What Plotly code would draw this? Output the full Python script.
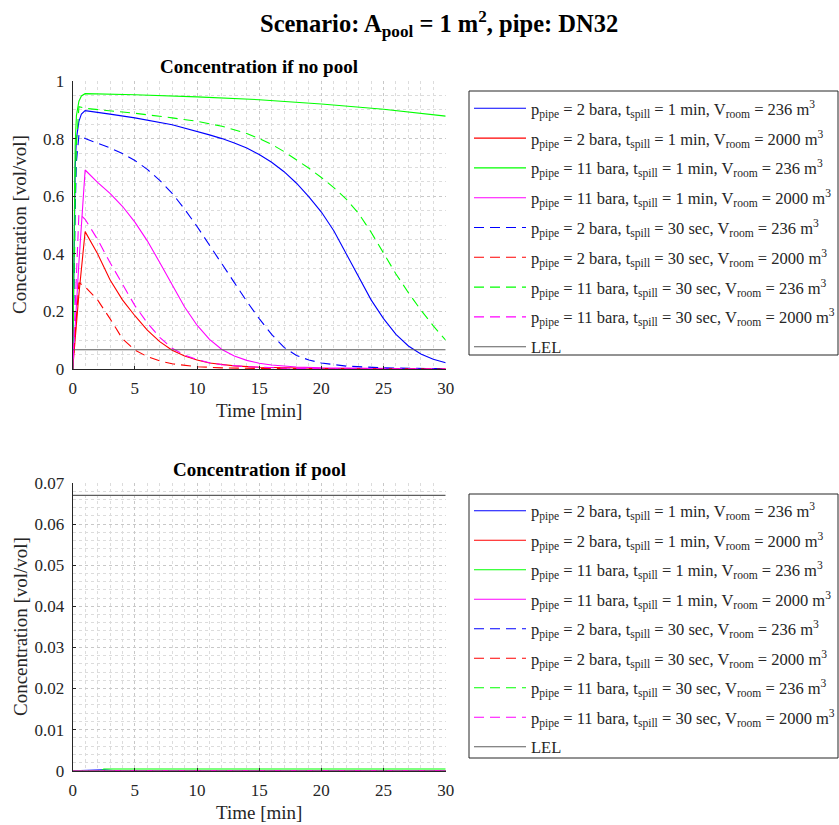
import plotly.graph_objects as go

# ---- data: concentration curves without pool (time in min, conc. in vol/vol) ----
t_p2_1min_236 = [0, 0.1, 0.2, 0.3, 0.5, 0.7, 1, 3, 5, 8, 10, 11, 12, 13, 14, 15, 16, 17, 18, 19, 20, 21, 22, 23, 24, 25, 26, 27, 28, 29, 30]
c_p2_1min_236 = [0, 0.45, 0.70, 0.80, 0.86, 0.885, 0.897, 0.885, 0.872, 0.848, 0.826, 0.813, 0.80, 0.785, 0.767, 0.745, 0.718, 0.685, 0.645, 0.598, 0.545, 0.48, 0.40, 0.32, 0.24, 0.175, 0.12, 0.08, 0.052, 0.034, 0.022]

t_p2_1min_2000 = [0, 0.5, 1, 2, 3, 4, 5, 6, 7, 8, 9, 10, 11, 12, 13, 15, 18, 22, 30]
c_p2_1min_2000 = [0, 0.26, 0.477, 0.40, 0.31, 0.24, 0.185, 0.135, 0.095, 0.065, 0.045, 0.031, 0.021, 0.015, 0.011, 0.006, 0.003, 0.001, 0.0]

t_p11_1min_236 = [0, 0.1, 0.2, 0.3, 0.5, 0.7, 1, 5, 10, 15, 20, 25, 30]
c_p11_1min_236 = [0, 0.50, 0.78, 0.88, 0.93, 0.948, 0.956, 0.952, 0.945, 0.935, 0.92, 0.902, 0.878]

t_p11_1min_2000 = [0, 0.5, 1, 2, 3, 4, 5, 6, 7, 8, 9, 10, 11, 12, 13, 14, 15, 16, 18, 20, 25, 30]
c_p11_1min_2000 = [0, 0.37, 0.691, 0.648, 0.61, 0.565, 0.51, 0.445, 0.37, 0.29, 0.215, 0.152, 0.103, 0.068, 0.045, 0.03, 0.02, 0.014, 0.007, 0.004, 0.001, 0.0]

t_p2_30s_236 = [0, 0.1, 0.2, 0.3, 0.5, 1, 2, 3, 4, 5, 6, 7, 8, 9, 10, 11, 12, 13, 14, 15, 16, 17, 18, 19, 20, 22, 25, 30]
c_p2_30s_236 = [0, 0.30, 0.55, 0.72, 0.812, 0.80, 0.785, 0.768, 0.748, 0.724, 0.693, 0.655, 0.61, 0.555, 0.495, 0.432, 0.365, 0.30, 0.235, 0.175, 0.12, 0.075, 0.047, 0.031, 0.021, 0.01, 0.004, 0.001]

t_p2_30s_2000 = [0, 0.25, 0.5, 1, 2, 3, 4, 5, 6, 7, 8, 10, 12, 15, 20, 30]
c_p2_30s_2000 = [0, 0.15, 0.30, 0.285, 0.24, 0.175, 0.105, 0.066, 0.043, 0.028, 0.018, 0.008, 0.004, 0.002, 0.0005, 0.0]

t_p11_30s_236 = [0, 0.1, 0.2, 0.3, 0.5, 1, 3, 5, 8, 10, 12, 14, 15, 16, 17, 18, 19, 20, 21, 22, 23, 24, 25, 26, 27, 28, 29, 30]
c_p11_30s_236 = [0, 0.35, 0.60, 0.78, 0.911, 0.905, 0.897, 0.888, 0.872, 0.86, 0.843, 0.818, 0.80, 0.78, 0.755, 0.727, 0.697, 0.665, 0.63, 0.59, 0.54, 0.475, 0.40, 0.33, 0.265, 0.205, 0.15, 0.10]

t_p11_30s_2000 = [0, 0.25, 0.5, 1, 2, 3, 4, 5, 6, 7, 8, 9, 10, 11, 12, 14, 17, 20, 30]
c_p11_30s_2000 = [0, 0.28, 0.54, 0.52, 0.45, 0.37, 0.295, 0.22, 0.16, 0.11, 0.072, 0.048, 0.033, 0.022, 0.015, 0.008, 0.003, 0.001, 0.0]

# ---- data: concentration curves with pool (all practically zero) ----
t_pool = [0, 2.3, 2.5, 3.5, 30]
c_pool_p2_1min_236 = [0, 0.0002, 0.0002, 0.0, 0.0]
c_pool_p2_1min_2000 = [0, 0, 0, 0, 0]
c_pool_p11_1min_236 = [0, 0, 0.0004, 0.0004, 0.0004]
c_pool_p11_1min_2000 = [0, 0, 0, 0, 0]
c_pool_p2_30s_236 = [0, 0, 0, 0, 0]
c_pool_p2_30s_2000 = [0, 0, 0, 0, 0]
c_pool_p11_30s_236 = [0, 0, 0, 0, 0]
c_pool_p11_30s_2000 = [0, 0, 0, 0, 0]

LEL = 0.067
t_range = [0, 30]

labels = [
    "p<sub>pipe</sub> = 2 bara, t<sub>spill</sub> = 1 min, V<sub>room</sub> = 236 m<sup>3</sup>",
    "p<sub>pipe</sub> = 2 bara, t<sub>spill</sub> = 1 min, V<sub>room</sub> = 2000 m<sup>3</sup>",
    "p<sub>pipe</sub> = 11 bara, t<sub>spill</sub> = 1 min, V<sub>room</sub> = 236 m<sup>3</sup>",
    "p<sub>pipe</sub> = 11 bara, t<sub>spill</sub> = 1 min, V<sub>room</sub> = 2000 m<sup>3</sup>",
    "p<sub>pipe</sub> = 2 bara, t<sub>spill</sub> = 30 sec, V<sub>room</sub> = 236 m<sup>3</sup>",
    "p<sub>pipe</sub> = 2 bara, t<sub>spill</sub> = 30 sec, V<sub>room</sub> = 2000 m<sup>3</sup>",
    "p<sub>pipe</sub> = 11 bara, t<sub>spill</sub> = 30 sec, V<sub>room</sub> = 236 m<sup>3</sup>",
    "p<sub>pipe</sub> = 11 bara, t<sub>spill</sub> = 30 sec, V<sub>room</sub> = 2000 m<sup>3</sup>",
]
colors = ["#0000ff", "#ff0000", "#00ff00", "#ff00ff"] * 2
dashes = ["solid"] * 4 + ["10px,6px"] * 4
LEL_COLOR = "#5e5e5e"

no_pool = [
    (t_p2_1min_236, c_p2_1min_236),
    (t_p2_1min_2000, c_p2_1min_2000),
    (t_p11_1min_236, c_p11_1min_236),
    (t_p11_1min_2000, c_p11_1min_2000),
    (t_p2_30s_236, c_p2_30s_236),
    (t_p2_30s_2000, c_p2_30s_2000),
    (t_p11_30s_236, c_p11_30s_236),
    (t_p11_30s_2000, c_p11_30s_2000),
]
with_pool = [
    (t_pool, c_pool_p2_1min_236),
    (t_pool, c_pool_p2_1min_2000),
    (t_pool, c_pool_p11_1min_236),
    (t_pool, c_pool_p11_1min_2000),
    (t_pool, c_pool_p2_30s_236),
    (t_pool, c_pool_p2_30s_2000),
    (t_pool, c_pool_p11_30s_236),
    (t_pool, c_pool_p11_30s_2000),
]

FONT = "Liberation Serif, Times New Roman, serif"
INK = "#262626"
W, H = 839, 825

fig = go.Figure()

for series, xa, ya in [(no_pool, "x", "y"), (with_pool, "x2", "y2")]:
    for (t, c), name, col, dash in zip(series, labels, colors, dashes):
        fig.add_trace(go.Scatter(
            x=t, y=c, mode="lines", name=name, xaxis=xa, yaxis=ya, showlegend=False,
            line=dict(color=col, width=1.1, dash=dash),
        ))
    fig.add_trace(go.Scatter(
        x=t_range, y=[LEL, LEL], mode="lines", name="LEL", xaxis=xa, yaxis=ya,
        showlegend=False, line=dict(color=LEL_COLOR, width=1.1),
    ))

x_dom = [72.7 / W, 445.7 / W]
top_dom = [1 - 369 / H, 1 - 81 / H]
bot_dom = [1 - 770.7 / H, 1 - 483 / H]


def xaxis(anchor):
    return dict(
        domain=x_dom, anchor=anchor, range=[0, 30], dtick=5, automargin=False,
        showline=True, linecolor=INK, linewidth=1, mirror=False,
        ticks="inside", ticklen=3, tickcolor=INK, zeroline=False,
        showgrid=True, gridcolor="#c8c8c8", griddash="dot", gridwidth=1,
        minor=dict(dtick=1, showgrid=True, gridcolor="#dcdcdc", griddash="dot", gridwidth=1),
        tickfont=dict(family=FONT, size=17, color=INK),
        ticklabelstandoff=4,
    )


def yaxis(domain, anchor, rng, major, minor):
    return dict(
        domain=domain, anchor=anchor, range=rng, dtick=major, automargin=False,
        showline=True, linecolor=INK, linewidth=1, mirror=False,
        ticks="inside", ticklen=3, tickcolor=INK, zeroline=False,
        showgrid=True, gridcolor="#c8c8c8", griddash="dot", gridwidth=1,
        minor=dict(dtick=minor, showgrid=True, gridcolor="#dcdcdc", griddash="dot", gridwidth=1),
        tickfont=dict(family=FONT, size=17, color=INK),
        ticklabelstandoff=4,
    )


fig.update_layout(
    width=W, height=H,
    margin=dict(l=0, r=0, t=0, b=0, autoexpand=False),
    paper_bgcolor="white", plot_bgcolor="white",
    xaxis=xaxis("y"),
    yaxis=yaxis(top_dom, "x", [0, 1], 0.2, 0.05),
    xaxis2=xaxis("y2"),
    yaxis2=yaxis(bot_dom, "x2", [0, 0.07], 0.01, 0.002),
    showlegend=False,
)


# ---- legend boxes (one per panel), built from the same labels / styles ----
def draw_legend(box_top, box_bottom, first_row, row_step):
    fig.add_shape(type="rect", xref="paper", yref="paper",
                  x0=469 / W, x1=838 / W, y0=1 - box_bottom / H, y1=1 - box_top / H,
                  line=dict(color=INK, width=1), fillcolor="white", layer="above")
    entries = list(zip(labels, colors, dashes)) + [("LEL", LEL_COLOR, "solid")]
    for i, (name, col, dash) in enumerate(entries):
        yc = first_row + i * row_step
        fig.add_shape(type="line", xref="paper", yref="paper",
                      x0=474 / W, x1=526 / W, y0=1 - yc / H, y1=1 - yc / H,
                      line=dict(color=col, width=1.1, dash=dash), layer="above")
        fig.add_annotation(text=name, xref="paper", yref="paper",
                           x=529 / W, y=1 - (yc + 1) / H, xanchor="left", yanchor="middle",
                           showarrow=False, font=dict(family=FONT, size=16.5, color=INK))


draw_legend(91, 355, 108.3, 29.8)
draw_legend(494, 758, 510.7, 29.5)

ann_font = dict(family=FONT, size=19, color=INK)
title_font = dict(family=FONT, size=19, color="black")
fig.add_annotation(text="<b>Scenario: A<sub>pool</sub> = 1 m<sup>2</sup>, pipe: DN32</b>",
                   xref="paper", yref="paper", x=439 / W, y=1 - 24 / H,
                   xanchor="center", yanchor="middle", showarrow=False,
                   font=dict(family=FONT, size=24.5, color="black"))
fig.add_annotation(text="<b>Concentration if no pool</b>", xref="paper", yref="paper",
                   x=259 / W, y=1 - 67 / H, xanchor="center", yanchor="middle",
                   showarrow=False, font=title_font)
fig.add_annotation(text="<b>Concentration if pool</b>", xref="paper", yref="paper",
                   x=259 / W, y=1 - 469 / H, xanchor="center", yanchor="middle",
                   showarrow=False, font=title_font)
for yc in (410, 812):
    fig.add_annotation(text="Time [min]", xref="paper", yref="paper",
                       x=259 / W, y=1 - yc / H, xanchor="center", yanchor="middle",
                       showarrow=False, font=ann_font)
for yc in (225, 627):
    fig.add_annotation(text="Concentration [vol/vol]", xref="paper", yref="paper",
                       x=20 / W, y=1 - yc / H, xanchor="center", yanchor="middle",
                       textangle=-90, showarrow=False, font=ann_font)

fig.write_html("out.html", post_script="document.body.style.margin='0px';")
